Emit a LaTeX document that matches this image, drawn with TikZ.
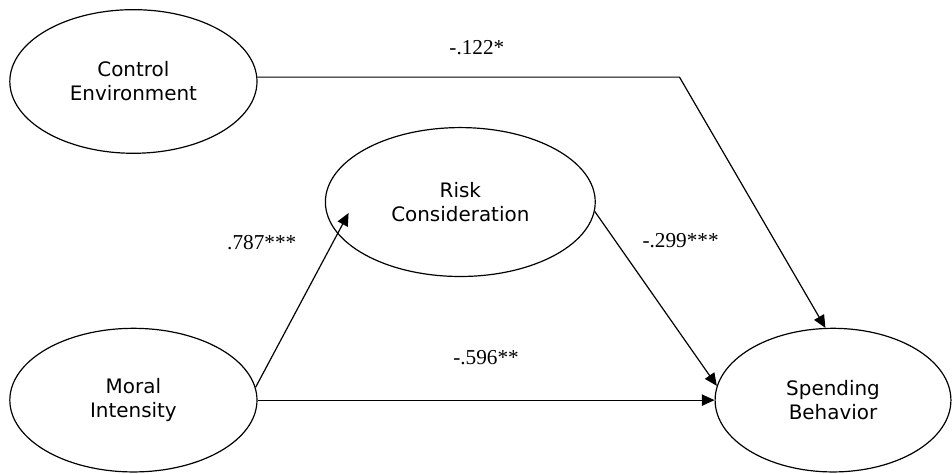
\documentclass[tikz,border=0pt]{standalone}
\usepackage{fontspec}
\setmainfont{Liberation Serif}
\newfontfamily\labelfont{DejaVu Sans}
\usetikzlibrary{positioning,arrows.meta,shapes.geometric,calc}

\begin{document}
\begin{tikzpicture}[
    >={Triangle[length=9.5pt,width=8.5pt]},
    latent/.style={
        draw=black,
        ellipse,
        line width=0.9pt,
        align=center,
        inner sep=0pt,
        font=\labelfont\fontsize{15}{18}\selectfont,
        minimum width=6.54cm,
        minimum height=3.8cm
    },
    link/.style={
        ->,
        line width=0.9pt
    },
    coef/.style={
        font=\fontsize{16}{18}\selectfont,
        inner sep=0pt
    }
]

% Page frame
\useasboundingbox (-3.53,2.156) rectangle ++(25.19,-12.54);

% Constructs
\node[latent] (ce) {Control\\Environment};
\node[latent, below=4.6cm of ce] (mi) {Moral\\Intensity};
\node[latent, minimum width=7.14cm, minimum height=3.94cm] (rc) at ($(ce)+(8.65,-3.19)$) {Risk\\Consideration};
\node[latent, minimum width=6.24cm, right=12.09cm of mi] (sb) {Spending\\Behavior};

% Helper points
\coordinate (bend) at ($(ce.2)+(11.17,0)$);
\coordinate (rctip) at ($(rc.west)+(0.63,-0.29)$);

% Paths
\draw[link] (ce.2) -- node[coef, pos=0.52, above=0.57cm] (b1) {-.122*} (bend) -- (sb.96);
\draw[link] (mi.6) -- node[coef, pos=0.83, left=0.95cm] (b2) {.787***} (rctip);
\draw[link] (rc.-4) -- node[coef, pos=0.17, right=0.7cm] (b3) {-.299***} (sb.173);
\draw[link] (mi) -- node[coef, above=0.91cm] (b4) {-.596**} (sb);

\end{tikzpicture}
\end{document}
